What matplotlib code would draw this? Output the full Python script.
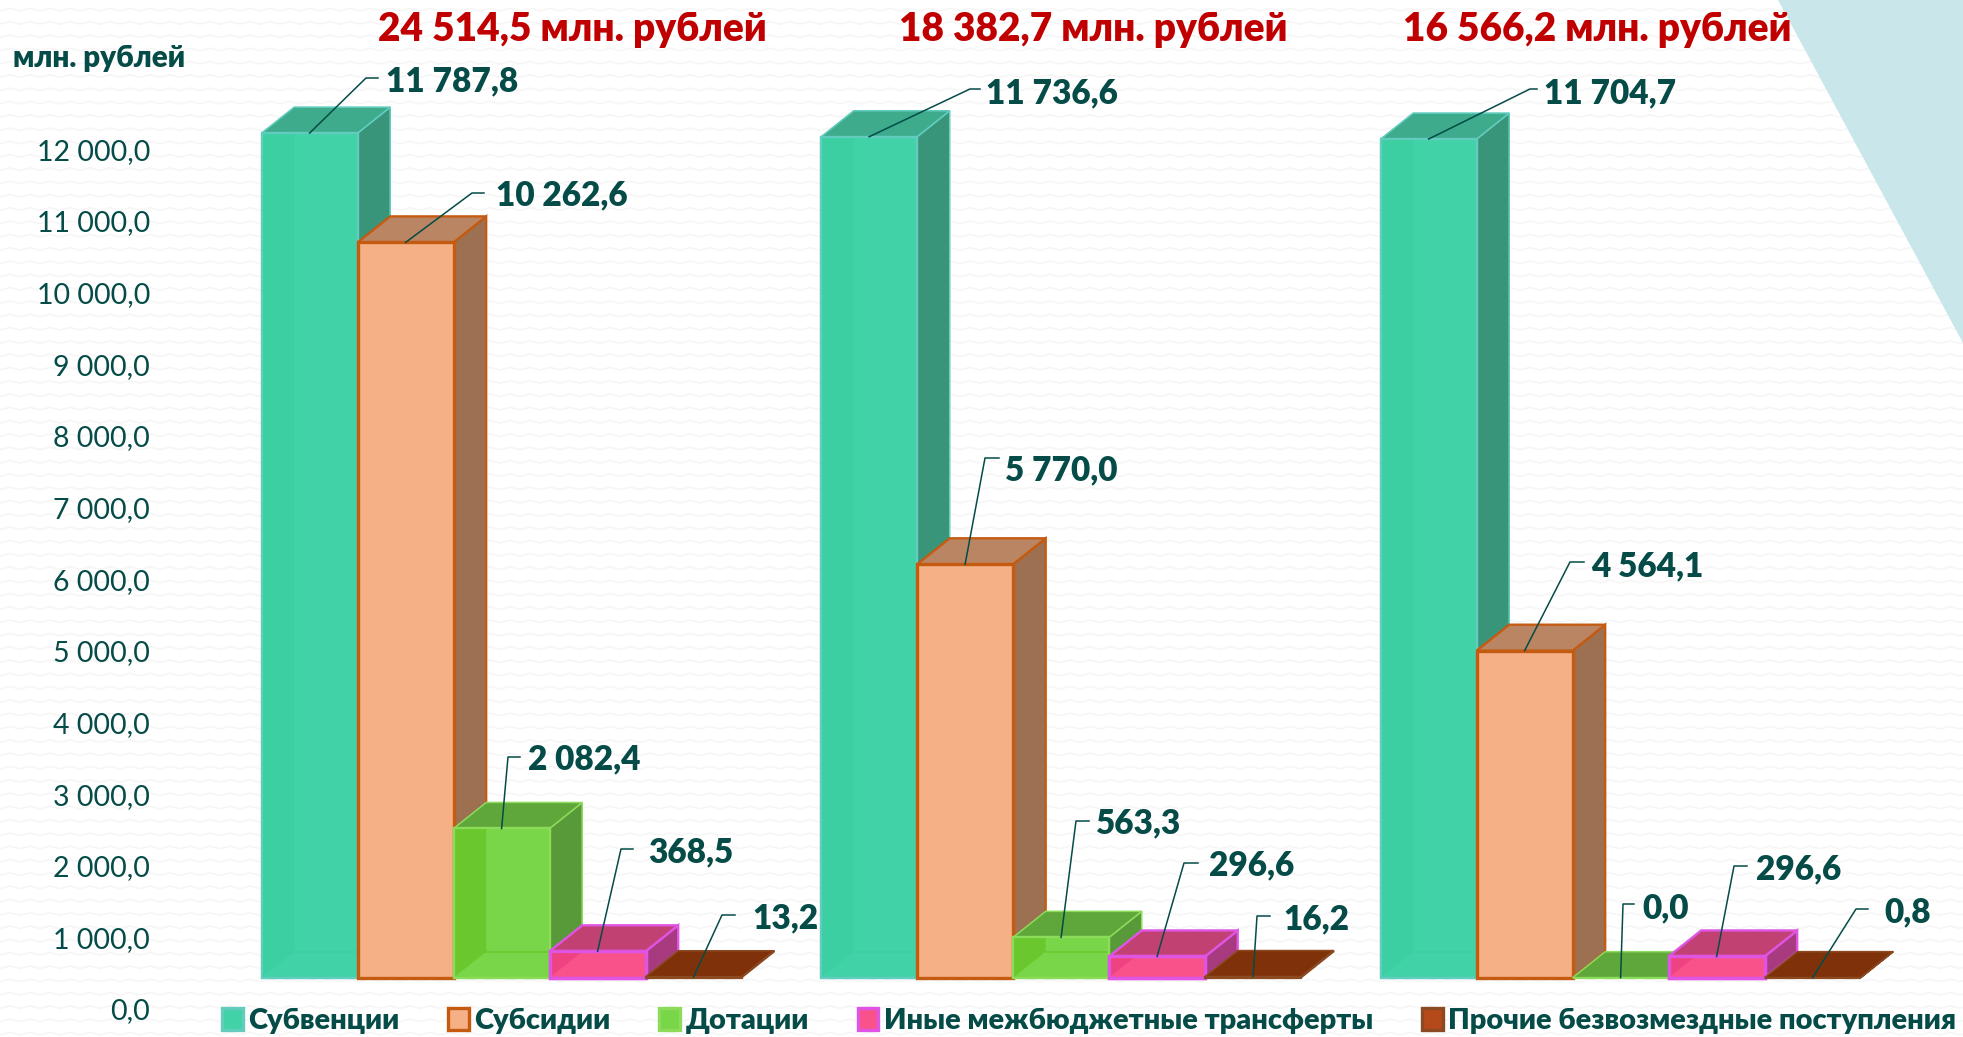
# -*- coding: utf-8 -*-
# Budget receipts by type, three years, drawn as fake 3D columns
import numpy as np
import matplotlib
matplotlib.use("Agg")
import matplotlib.pyplot as plt
from matplotlib.collections import LineCollection
from matplotlib.font_manager import FontProperties
from matplotlib.patches import Patch, Polygon
from matplotlib.transforms import Affine2D

plt.rcParams['font.family'] = ['Lato', 'DejaVu Sans']
HEAVY = 800

# data
series_names = ['Субвенции', 'Субсидии', 'Дотации', 'Иные межбюджетные трансферты',
                'Прочие безвозмездные поступления']
subventions = [11787.8, 11736.6, 11704.7]
subsidies = [10262.6, 5770.0, 4564.1]
dotations = [2082.4, 563.3, 0.0]
other_transfers = [368.5, 296.6, 296.6]
other_income = [13.2, 16.2, 0.8]
totals = [24514.5, 18382.7, 16566.2]
y_ticks = [0, 1000, 2000, 3000, 4000, 5000, 6000, 7000, 8000, 9000, 10000, 11000, 12000]
y_unit = 'млн. рублей'
total_suffix = ' млн. рублей'

all_series = [subventions, subsidies, dotations, other_transfers, other_income]

# styles: front, edge, side, top, left wall seen through the front
styles = [
    ('#41D3A7', '#62CDBF', '#399579', '#3DAB8C', '#3CCFA2'),
    ('#F5B086', '#C55A11', '#9C7050', '#BA8562', '#F5B086'),
    ('#78D648', '#8CDB5A', '#58993A', '#5FA63B', '#6AC82E'),
    ('#F9528B', '#E054E4', '#A83A80', '#C14272', '#EE4380'),
    ('#B5491A', '#8C4A22', '#7F3209', '#7F3209', '#7F3209'),
]

# layout in pixels of the 1963x1037 picture
W, H = 1963, 1037
group_step = 559.5
bar_px = 96.0
first_left = 261.6
base_y = 977.7
px_per_1000 = 71.65
depth_x = 32.6
depth_y = 26.0
tick_zero_y = 1009.0

# leader elbow (x, y), leader end x, label left x, label y: per group, per series
leaders = [
    [(366, 78, 378, 386, 81), (472, 193, 484, 496, 195), (508, 757, 520, 528, 759),
     (621, 849, 633, 648, 852), (722, 915, 735, 752, 918)],
    [(970, 89, 980, 986, 93), (985, 458, 999, 1005, 470), (1076, 821, 1089, 1096, 823),
     (1184, 863, 1198, 1209, 865), (1257, 916, 1270, 1283, 919)],
    [(1530, 89, 1537, 1544, 93), (1570, 562, 1584, 1591, 566), (1623, 904, 1634, 1642, 908),
     (1734, 866, 1747, 1756, 869), (1856, 909, 1868, 1884, 912)],
]
title_left = [378, 899, 1403]
text_color = '#054B47'


def fmt(v):
    return f"{v:,.1f}".replace(',', ' ').replace('.', ',')


fig = plt.figure(figsize=(W / 100, H / 100), dpi=100, facecolor='white')
px = Affine2D().scale(1, -1).translate(0, H)  # picture pixels, y going down

# faint zigzag wallpaper and the corner triangle
zig = []
for row in np.arange(-5, H + 13, 13.3):
    xs = np.arange(-10, W + 20, 10)
    ys = row + 2.5 * (np.arange(len(xs)) % 2)
    zig.append(np.column_stack([xs, ys]))
fig.add_artist(LineCollection(zig, colors='#F6F6F6', linewidths=1.2, transform=px, zorder=0))
fig.add_artist(Polygon([(1778, 0), (W, 0), (W, 343)], closed=True, transform=px,
                       facecolor='#C9E7EA', edgecolor='none', zorder=0))

# main axes cover the whole picture, x in group units, y in roubles
ax = fig.add_axes([0, 0, 1, 1])
ax.patch.set_visible(False)
ax.axis('off')
x0_px = first_left + 2.5 * bar_px
ax.set_xlim(-x0_px / group_step, (W - x0_px) / group_step)
ax.set_ylim((base_y - H) / px_per_1000 * 1000, base_y / px_per_1000 * 1000)

bar_w = bar_px / group_step
dx = depth_x / group_step
dy = depth_y / px_per_1000 * 1000
groups = np.arange(3)

for j, values in enumerate(all_series):
    front, edge, side, top, wall = styles[j]
    z = 3 + j
    lw = 2.4 if j in (1, 3) else 1.6
    xc = groups + (j - 2) * bar_w
    bars = ax.bar(xc, values, width=bar_w, color=front, edgecolor=edge, linewidth=lw, zorder=z + 0.3)
    for i, v in enumerate(values):
        left = xc[i] - bar_w / 2
        right = xc[i] + bar_w / 2
        ax.add_patch(Polygon([(right, 0), (right + dx, dy), (right + dx, v + dy), (right, v)],
                             facecolor=side, edgecolor=edge, linewidth=lw * 0.7, zorder=z))
        ax.add_patch(Polygon([(left, v), (left + dx, v + dy), (right + dx, v + dy), (right, v)],
                             facecolor=top, edgecolor=edge, linewidth=lw * 0.7, zorder=z + 0.1))
        if j != 1 and v > 100:
            # back corner seen through the translucent front
            inner = Polygon([(left, 0), (left + dx, dy), (left + dx, v + dy), (left, v)],
                            facecolor=wall, edgecolor='none', zorder=z + 0.4)
            ax.add_patch(inner)
            inner.set_clip_path(bars[i])
            line, = ax.plot([left + dx, right], [dy, dy], color=wall, lw=1.2, zorder=z + 0.4)
            line.set_clip_path(bars[i])
            ax.add_patch(Polygon([(left, 0), (left + bar_w, 0), (right, v), (left, v)],
                                 fill=False, edgecolor=edge, linewidth=lw, zorder=z + 0.5))

# leaders and value labels
for i in groups:
    for j, values in enumerate(all_series):
        ex, ey, end_x, lx, ly = leaders[i][j]
        anchor_x = i + (j - 2) * bar_w
        elbow_x = (ex - x0_px) / group_step
        stop_x = (end_x - x0_px) / group_step
        elbow_y = (base_y - ey) / px_per_1000 * 1000
        ax.plot([anchor_x, elbow_x, stop_x], [values[i], elbow_y, elbow_y],
                color=text_color, lw=1.1, zorder=10)
        ax.text(lx, ly, fmt(values[i]), transform=px, color=text_color, fontsize=24,
                fontweight=HEAVY, ha='left', va='center', zorder=11)

# group totals
for i, t in enumerate(totals):
    ax.text(title_left[i], 30, fmt(t) + total_suffix, transform=px, color='#C00000',
            fontsize=28, fontweight=HEAVY, ha='left', va='center', zorder=11)

ax.text(13, 58, y_unit, transform=px, color=text_color, fontsize=21.3, fontweight=HEAVY,
        ha='left', va='center')

# value axis: its labels sit a little below the column scale, as in the slide
span_px = y_ticks[-1] / 1000 * px_per_1000
ax_y = fig.add_axes([153 / W, (H - tick_zero_y) / H, 4 / W, span_px / H])
ax_y.patch.set_visible(False)
for s in ax_y.spines.values():
    s.set_visible(False)
ax_y.set_xticks([])
ax_y.set_ylim(0, y_ticks[-1])
ax_y.set_yticks(y_ticks)
ax_y.set_yticklabels([fmt(t) for t in y_ticks], color=text_color, fontsize=20.5)
ax_y.tick_params(axis='y', length=0, pad=2)

# legend
handles = [Patch(facecolor=st[0], edgecolor=st[1], linewidth=2.4, label=name)
           for st, name in zip(styles, series_names)]
ax.legend(handles=handles, ncol=5, frameon=False, loc='center left',
          bbox_to_anchor=(222 / W, (H - 1021) / H), bbox_transform=fig.transFigure,
          handlelength=0.72, handleheight=0.75, handletextpad=0.18,
          columnspacing=1.68, borderpad=0, borderaxespad=0,
          prop=FontProperties(family=['Lato', 'DejaVu Sans'], size=20.9, weight=HEAVY),
          labelcolor=text_color)

fig.savefig('out.png', dpi=100)
